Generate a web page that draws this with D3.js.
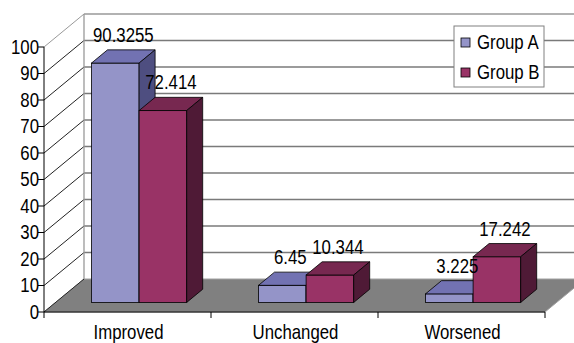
<!DOCTYPE html>
<html>
<head>
<meta charset="utf-8">
<script src="https://cdn.jsdelivr.net/npm/d3@7"></script>
<style>
  body { margin: 0; background: #fff; }
  text { font-family: "Liberation Sans", Arial, sans-serif; fill: #000; }
</style>
</head>
<body>
<div id="chart"></div>
<script>
var categories = ["Improved", "Unchanged", "Worsened"];
var groups = ["Group A", "Group B"];
var groupA = [90.3255, 6.45, 3.225];
var groupB = [72.414, 10.344, 17.242];
var yTicks = [0, 10, 20, 30, 40, 50, 60, 70, 80, 90, 100];

var width = 574, height = 343;

// front plane of the box and the depth offset to the back wall
var plotLeft = 44, plotRight = 545, plotBottom = 312, plotTop = 47;
var depthX = 40, depthY = -33;
// bars sit between these depth fractions
var barNear = 0.29, barFar = 0.69;

var fills = {
  "Group A": { front: "#9494c8", top: "#7272b2", side: "#4e4e80" },
  "Group B": { front: "#993366", top: "#772850", side: "#4f1a36" }
};

var svg = d3.select("#chart").append("svg")
    .attr("width", width)
    .attr("height", height);

var y = d3.scaleLinear().domain([0, 100]).range([plotBottom, plotTop]);

var x = d3.scaleBand()
    .domain(categories)
    .range([plotLeft, plotRight])
    .paddingInner(0.43)
    .paddingOuter(0.215);

var xGroup = d3.scaleBand()
    .domain(groups)
    .range([0, x.bandwidth()]);

// text is a bit taller than it is wide in the original
function label(g, tx, ty, str, anchor) {
  g.append("text")
      .attr("transform", "translate(" + tx + "," + ty + ") scale(1,1.18)")
      .attr("text-anchor", anchor || "middle")
      .attr("font-size", 16.8)
      .text(str);
}

// floor
svg.append("path")
    .attr("d", "M" + plotLeft + "," + plotBottom + "L" + plotRight + "," + plotBottom +
      "L" + (plotRight + depthX) + "," + (plotBottom + depthY) +
      "L" + (plotLeft + depthX) + "," + (plotBottom + depthY) + "Z")
    .attr("fill", "#808080")
    .attr("stroke", "#a0a0a0")
    .attr("stroke-width", 1);

// back wall gridlines and left wall diagonals
yTicks.forEach(function(t) {
  if (t > 0) {
    svg.append("line")
        .attr("x1", plotLeft + depthX).attr("x2", plotRight + depthX + 10)
        .attr("y1", y(t) + depthY).attr("y2", y(t) + depthY)
        .attr("stroke", t == 100 ? "#999" : "#7a7a7a")
        .attr("stroke-width", 1.3);
  }
  svg.append("line")
      .attr("x1", plotLeft).attr("y1", y(t))
      .attr("x2", plotLeft + depthX).attr("y2", y(t) + depthY)
      .attr("stroke", t == 100 ? "#999" : "#222")
      .attr("stroke-width", 1);
});

svg.append("line")
    .attr("x1", plotLeft + depthX).attr("x2", plotLeft + depthX)
    .attr("y1", y(100) + depthY).attr("y2", y(0) + depthY)
    .attr("stroke", "#999")
    .attr("stroke-width", 1.3);

// bars
var ox = depthX * barNear, oy = depthY * barNear;
var bx = depthX * (barFar - barNear), by = depthY * (barFar - barNear);

categories.forEach(function(c, i) {
  [groupA[i], groupB[i]].forEach(function(v, j) {
    var g = groups[j];
    var x0 = x(c) + xGroup(g) + ox, x1 = x0 + xGroup.bandwidth();
    var yb = y(0) + oy, yt = y(v) + oy;
    var col = fills[g];

    svg.append("rect")
        .attr("x", x0).attr("y", yt)
        .attr("width", x1 - x0).attr("height", yb - yt)
        .attr("fill", col.front)
        .attr("stroke", "#000").attr("stroke-width", 0.8);

    svg.append("path")
        .attr("d", "M" + x0 + "," + yt + "L" + x1 + "," + yt +
          "L" + (x1 + bx) + "," + (yt + by) + "L" + (x0 + bx) + "," + (yt + by) + "Z")
        .attr("fill", col.top)
        .attr("stroke", "#000").attr("stroke-width", 0.8);

    svg.append("path")
        .attr("d", "M" + x1 + "," + yt + "L" + (x1 + bx) + "," + (yt + by) +
          "L" + (x1 + bx) + "," + (yb + by) + "L" + x1 + "," + yb + "Z")
        .attr("fill", col.side)
        .attr("stroke", "#000").attr("stroke-width", 0.8);
  });
});

// value labels over each bar
categories.forEach(function(c, i) {
  [groupA[i], groupB[i]].forEach(function(v, j) {
    var g = groups[j];
    var cx = x(c) + xGroup(g) + xGroup.bandwidth() / 2 + ox + bx / 2;
    var ty = y(v) + oy + by - 8;
    label(svg, cx, ty, String(v));
  });
});

// front axes
svg.append("line")
    .attr("x1", plotLeft).attr("x2", plotLeft)
    .attr("y1", y(100)).attr("y2", y(0))
    .attr("stroke", "#000");
svg.append("line")
    .attr("x1", plotLeft).attr("x2", plotRight)
    .attr("y1", y(0)).attr("y2", y(0))
    .attr("stroke", "#000");

yTicks.forEach(function(t) {
  svg.append("line")
      .attr("x1", plotLeft - 6).attr("x2", plotLeft)
      .attr("y1", y(t)).attr("y2", y(t))
      .attr("stroke", "#000");
  label(svg, plotLeft - 5, y(t) + 6.5, String(t), "end");
});

var xTicks = categories.map(function(c) { return x(c) - x.step() * 0.215; }).concat([plotRight]);
xTicks.forEach(function(tx) {
  svg.append("line")
      .attr("x1", tx).attr("x2", tx)
      .attr("y1", y(0)).attr("y2", y(0) + 6)
      .attr("stroke", "#000");
});

categories.forEach(function(c) {
  label(svg, x(c) + x.bandwidth() / 2 + 1, 339, c);
});

// legend
var legend = svg.append("g").attr("transform", "translate(454,26)");
legend.append("rect")
    .attr("width", 90).attr("height", 61)
    .attr("fill", "#fff")
    .attr("stroke", "#808080");
groups.forEach(function(g, i) {
  legend.append("rect")
      .attr("x", 7).attr("y", 12 + i * 30)
      .attr("width", 9).attr("height", 9)
      .attr("fill", fills[g].front)
      .attr("stroke", "#000").attr("stroke-width", 0.8);
  label(legend, 23, 23 + i * 30, g, "start");
});
</script>
</body>
</html>
